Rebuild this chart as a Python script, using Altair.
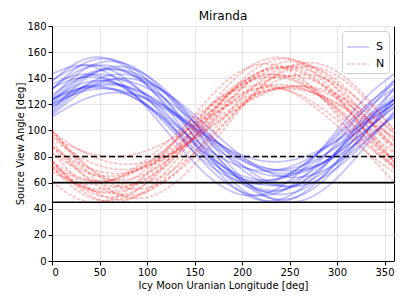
import altair as alt
import pandas as pd

lon = [0, 30, 60, 90, 120, 150, 180, 210, 240, 270, 300, 330, 360]

s_curves = [
    [131.6, 149.8, 154.8, 145.0, 123.3, 95.2, 68.4, 50.2, 45.2, 55.0, 76.7, 104.8, 131.6],
    [138.3, 149.3, 147.0, 132.2, 108.7, 82.9, 61.7, 50.8, 53.0, 67.9, 91.3, 117.1, 138.3],
    [121.0, 138.9, 146.8, 142.8, 127.8, 105.9, 83.0, 65.1, 57.2, 61.2, 76.2, 98.1, 121.0],
    [123.7, 135.6, 137.4, 128.6, 111.7, 91.0, 72.3, 60.4, 58.6, 67.4, 84.3, 105.0, 123.7],
    [117.5, 130.3, 135.0, 130.3, 117.5, 100.0, 82.5, 69.7, 65.0, 69.7, 82.5, 100.0, 117.5],
    [120.1, 129.4, 131.9, 126.9, 115.8, 101.6, 87.9, 78.6, 76.1, 81.1, 92.2, 106.4, 120.1],
    [114.8, 136.8, 148.2, 145.9, 130.4, 106.0, 79.2, 57.2, 45.8, 48.1, 63.6, 88.0, 114.8],
    [135.4, 142.8, 139.1, 125.1, 104.7, 83.2, 66.6, 59.2, 62.9, 76.9, 97.3, 118.8, 135.4],
    [123.0, 140.6, 147.0, 140.6, 123.0, 99.0, 75.0, 57.4, 51.0, 57.4, 75.0, 99.0, 123.0],
    [123.6, 131.9, 131.9, 123.6, 109.3, 92.7, 78.4, 70.1, 70.1, 78.4, 92.7, 109.3, 123.6],
    [111.8, 128.9, 138.7, 138.7, 128.9, 111.8, 92.2, 75.1, 65.3, 65.3, 75.1, 92.2, 111.8],
    [126.9, 140.3, 142.3, 132.5, 113.4, 90.2, 69.1, 55.7, 53.7, 63.5, 82.6, 105.8, 126.9],
    [143.3, 150.0, 143.3, 125.0, 100.0, 75.0, 56.7, 50.0, 56.7, 75.0, 100.0, 125.0, 143.3],
    [118.2, 132.5, 138.9, 135.6, 123.7, 106.1, 87.8, 73.5, 67.1, 70.4, 82.3, 99.9, 118.2],
    [124.9, 144.9, 152.9, 146.8, 128.1, 101.9, 75.1, 55.1, 47.1, 53.2, 71.9, 98.1, 124.9],
    [132.5, 140.6, 138.1, 125.6, 106.6, 86.0, 69.5, 61.4, 63.9, 76.4, 95.4, 116.0, 132.5],
    [110.3, 122.6, 128.7, 126.8, 117.5, 103.2, 87.8, 75.4, 69.3, 71.2, 80.5, 94.8, 110.3],
    [131.6, 146.5, 149.5, 139.8, 120.0, 95.3, 72.4, 57.5, 54.5, 64.2, 84.0, 108.7, 131.6],
    [123.5, 132.8, 132.8, 123.5, 107.3, 88.7, 72.5, 63.2, 63.2, 72.5, 88.7, 107.3, 123.5],
    [113.3, 131.9, 142.1, 140.9, 128.8, 108.9, 86.7, 68.1, 57.9, 59.1, 71.2, 91.1, 113.3],
    [137.8, 153.3, 154.8, 141.9, 118.0, 89.6, 64.2, 48.7, 47.2, 60.1, 84.0, 112.4, 137.8],
    [120.5, 132.1, 136.0, 131.0, 118.5, 101.8, 85.5, 73.9, 70.0, 75.0, 87.5, 104.2, 120.5],
]

n_curves = [
    [76.7, 55.0, 45.2, 50.2, 68.4, 95.2, 123.3, 145.0, 154.8, 149.8, 131.6, 104.8, 76.7],
    [91.3, 67.9, 53.0, 50.8, 61.7, 82.9, 108.7, 132.2, 147.0, 149.3, 138.3, 117.1, 91.3],
    [72.2, 57.2, 53.2, 61.1, 79.0, 101.9, 123.8, 138.8, 142.8, 134.9, 117.0, 94.1, 72.2],
    [88.3, 71.4, 62.6, 64.4, 76.3, 95.0, 115.7, 132.6, 141.4, 139.6, 127.7, 109.0, 88.3],
    [82.5, 69.7, 65.0, 69.7, 82.5, 100.0, 117.5, 130.3, 135.0, 130.3, 117.5, 100.0, 82.5],
    [95.0, 84.7, 80.1, 82.4, 91.1, 103.7, 117.0, 127.3, 131.9, 129.6, 120.9, 108.3, 95.0],
    [60.5, 46.8, 46.8, 60.5, 84.3, 111.7, 135.5, 149.2, 149.2, 135.5, 111.7, 84.3, 60.5],
    [97.3, 76.9, 62.9, 59.2, 66.6, 83.2, 104.7, 125.1, 139.1, 142.8, 135.4, 118.8, 97.3],
    [76.0, 58.4, 52.0, 58.4, 76.0, 100.0, 124.0, 141.6, 148.0, 141.6, 124.0, 100.0, 76.0],
    [93.7, 79.4, 71.1, 71.1, 79.4, 93.7, 110.3, 124.6, 132.9, 132.9, 124.6, 110.3, 93.7],
    [70.7, 57.6, 55.7, 65.3, 84.0, 106.7, 127.3, 140.4, 142.3, 132.7, 114.0, 91.3, 70.7],
    [100.0, 74.0, 55.0, 48.0, 55.0, 74.0, 100.0, 126.0, 145.0, 152.0, 145.0, 126.0, 100.0],
    [67.9, 59.6, 61.3, 72.6, 90.4, 110.0, 126.1, 134.4, 132.7, 121.4, 103.6, 84.0, 67.9],
    [87.3, 67.8, 57.7, 59.8, 73.4, 95.0, 118.7, 138.2, 148.3, 146.2, 132.6, 111.0, 87.3],
    [83.6, 60.6, 48.2, 49.6, 64.5, 89.0, 116.4, 139.4, 151.8, 150.4, 135.5, 111.0, 83.6],
    [76.4, 63.9, 61.4, 69.5, 86.0, 106.6, 125.6, 138.1, 140.6, 132.5, 116.0, 95.4, 76.4],
    [98.8, 84.7, 75.8, 74.5, 81.0, 93.7, 109.2, 123.3, 132.2, 133.6, 127.0, 114.3, 98.8],
    [75.6, 56.6, 49.1, 54.9, 72.5, 97.3, 122.5, 141.4, 149.0, 143.2, 125.5, 100.8, 75.6],
    [72.9, 62.8, 61.8, 70.3, 85.9, 104.5, 121.1, 131.2, 132.2, 123.7, 108.1, 89.5, 72.9],
    [100.4, 77.1, 60.5, 55.0, 62.1, 80.0, 103.6, 126.9, 143.5, 149.0, 141.9, 124.0, 100.4],
    [71.9, 52.4, 46.1, 54.4, 75.2, 102.9, 130.2, 149.6, 155.9, 147.6, 126.8, 99.1, 71.9],
    [87.6, 74.0, 67.3, 69.4, 79.7, 95.4, 112.4, 126.0, 132.7, 130.6, 120.3, 104.6, 87.6],
]

dashed_refs = [80]
solid_refs = [60, 45]

rows = []
for i, c in enumerate(s_curves):
    for x, y in zip(lon, c):
        rows.append({"lon": x, "angle": y, "series": "S", "cid": f"S{i}"})
for i, c in enumerate(n_curves):
    for x, y in zip(lon, c):
        rows.append({"lon": x, "angle": y, "series": "N", "cid": f"N{i}"})
df = pd.DataFrame(rows)

FONT = "DejaVu Sans"

x_enc = alt.X("lon:Q", scale=alt.Scale(domain=[0, 360], nice=False),
              axis=alt.Axis(values=[0, 50, 100, 150, 200, 250, 300, 350], labelOverlap=False,
                            title="Icy Moon Uranian Longitude [deg]"))
y_axis = alt.Axis(values=list(range(0, 181, 20)), labelOverlap=False,
                  title="Source View Angle [deg]", titlePadding=1)
y_scale = alt.Scale(domain=[0, 180], nice=False)

lines = alt.Chart(df).mark_line(interpolate="natural", strokeWidth=1.8, opacity=0.24).encode(
    x=x_enc,
    y=alt.Y("angle:Q", scale=y_scale, axis=y_axis),
    detail="cid:N",
    color=alt.Color("series:N", scale=alt.Scale(domain=["S", "N"], range=["#0000ff", "#ff0000"]),
                    legend=alt.Legend(title=None, orient="top-right", symbolType="stroke",
                                      symbolStrokeWidth=1.5, symbolSize=480, labelFontSize=11,
                                      fillColor="white", strokeColor="#d0d0d0", padding=4,
                                      cornerRadius=3, offset=5, symbolOpacity=0.7,
                                      rowPadding=-6, labelOffset=6)),
    strokeDash=alt.StrokeDash("series:N", scale=alt.Scale(domain=["S", "N"], range=[[1, 0], [3.5, 1.5]]),
                              legend=alt.Legend(title=None, orient="top-right")),
)

dashed = alt.Chart(pd.DataFrame({"v": dashed_refs})).mark_rule(
    color="black", strokeWidth=1.6, strokeDash=[6, 3]).encode(
    y=alt.Y("v:Q", scale=y_scale, axis=y_axis))
solid = alt.Chart(pd.DataFrame({"v": solid_refs})).mark_rule(
    color="black", strokeWidth=1.6).encode(
    y=alt.Y("v:Q", scale=y_scale, axis=y_axis))

chart = (lines + dashed + solid).properties(
    width=342, height=235,
    autosize=alt.AutoSizeParams(type="none"),
    padding={"left": 44, "top": 18, "right": 5, "bottom": 36},
    title=alt.Title("Miranda", font=FONT, fontSize=12, fontWeight="normal", offset=4, dy=6),
).configure_axis(
    labelFont=FONT, titleFont=FONT, labelFontSize=10, titleFontSize=10,
    titleFontWeight="normal", labelColor="black", titleColor="black",
    domainColor="black", tickColor="black", gridColor="#e6e6e6",
    tickSize=4, labelPadding=2, titlePadding=3,
).configure_view(stroke="black", strokeWidth=1).configure_legend(labelFont=FONT)

chart.save("out.html", embed_options={"renderer": "svg", "actions": False})
